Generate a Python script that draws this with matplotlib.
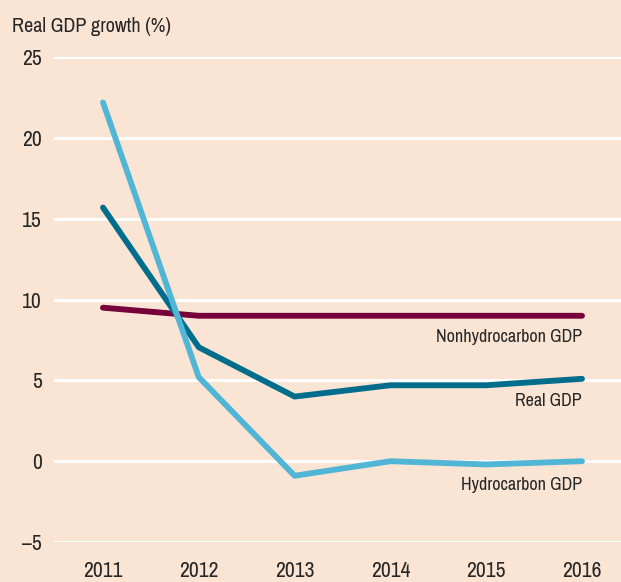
import matplotlib
matplotlib.use("Agg")
import matplotlib.pyplot as plt

# data
years = [2011, 2012, 2013, 2014, 2015, 2016]
nonhydro = [9.5, 9.0, 9.0, 9.0, 9.0, 9.0]
real_gdp = [15.7, 7.05, 4.0, 4.7, 4.7, 5.1]
hydro = [22.2, 5.2, -0.9, 0.0, -0.2, 0.0]
yticks = [-5, 0, 5, 10, 15, 20, 25]

bg = "#fae5d4"
txt = "#262626"
plt.rcParams['font.family'] = ['Archivo Narrow', 'DejaVu Sans']

fig = plt.figure(figsize=(6.21, 5.82), dpi=100, facecolor=bg)
ax = fig.add_axes([0.087, 0.0687, 0.913, 0.833])
ax.set_facecolor(bg)

ax.set_xlim(2010.489, 2016.407)
ax.set_ylim(-5, 25)
ax.set_yticks(yticks)
ax.set_yticklabels(["\u20135" if t < 0 else str(t) for t in yticks])
ax.set_xticks(years)
ax.grid(axis='y', color='white', linewidth=2.2)
ax.set_axisbelow(True)
for s in ax.spines.values():
    s.set_visible(False)
ax.tick_params(length=0, labelsize=15.5, colors=txt)
ax.tick_params(axis='x', pad=14)
ax.tick_params(axis='y', pad=9)

lw = 4.2
ax.plot(years, nonhydro, color='#76003a', lw=lw, solid_capstyle='round', clip_on=False)
ax.plot(years, real_gdp, color='#006d8c', lw=lw, solid_capstyle='round', clip_on=False)
ax.plot(years, hydro, color='#51b6d5', lw=lw, solid_capstyle='round', clip_on=False)

ax.text(2016, nonhydro[-1] - 1.3, "Nonhydrocarbon GDP", ha='right', va='center', fontsize=13, color=txt)
ax.text(2016, real_gdp[-1] - 1.4, "Real GDP", ha='right', va='center', fontsize=13, color=txt)
ax.text(2016, hydro[-1] - 1.5, "Hydrocarbon GDP", ha='right', va='center', fontsize=13, color=txt)

fig.text(0.019, 0.955, "Real GDP growth (%)", ha='left', va='center', fontsize=14.5, color=txt)

fig.savefig("out.png", dpi=100, facecolor=bg)
